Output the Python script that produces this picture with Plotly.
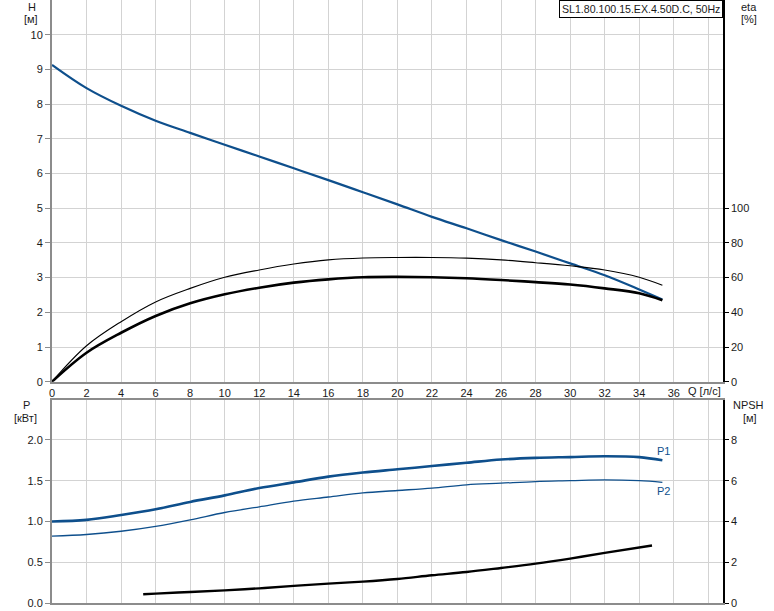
import plotly.graph_objects as go

# ---- data ----
q_h = [0, 2, 4, 6, 8, 10, 12, 14, 16, 18, 20, 22, 24, 26, 28, 30, 32, 34, 35.34]
h_vals = [9.13, 8.46, 7.95, 7.52, 7.17, 6.83, 6.49, 6.15, 5.81, 5.46, 5.11, 4.75, 4.42, 4.08, 3.75, 3.41, 3.07, 2.66, 2.37]

q_eta = [0, 2, 4, 6, 8, 10, 12, 14, 16, 18, 20, 22, 24, 26, 28, 30, 32, 34, 35.34]
eta_thin = [0, 20.7, 34.6, 46.0, 53.8, 60.2, 64.4, 67.8, 70.2, 71.3, 71.6, 71.6, 71.2, 70.2, 68.6, 66.8, 64.4, 60.2, 55.6]
eta_thick = [0, 16.7, 28.2, 37.9, 45.2, 50.4, 54.2, 57.1, 59.0, 60.2, 60.4, 60.2, 59.6, 58.6, 57.4, 56.0, 53.8, 51.0, 47.0]

q_p = [0, 2, 4, 6, 8, 10, 12, 14, 16, 18, 20, 22, 24, 26, 28, 30, 32, 34, 35.34]
p1_vals = [1.00, 1.02, 1.08, 1.15, 1.24, 1.32, 1.41, 1.48, 1.55, 1.60, 1.64, 1.68, 1.72, 1.76, 1.78, 1.79, 1.80, 1.79, 1.75]
p2_vals = [0.82, 0.84, 0.88, 0.94, 1.02, 1.11, 1.18, 1.25, 1.30, 1.35, 1.38, 1.41, 1.45, 1.47, 1.49, 1.50, 1.51, 1.50, 1.48]

q_npsh = [5.28, 6, 8, 10, 12, 14, 16, 18, 20, 22, 24, 26, 28, 30, 32, 34.74]
npsh_vals = [0.43, 0.46, 0.54, 0.62, 0.72, 0.84, 0.95, 1.05, 1.18, 1.36, 1.52, 1.72, 1.93, 2.18, 2.46, 2.82]

q_ticks = [0, 2, 4, 6, 8, 10, 12, 14, 16, 18, 20, 22, 24, 26, 28, 30, 32, 34, 36]
h_ticks = [0, 1, 2, 3, 4, 5, 6, 7, 8, 9, 10]
eta_ticks = [0, 20, 40, 60, 80, 100]
p_ticks = [0.0, 0.5, 1.0, 1.5, 2.0]
npsh_ticks = [0, 2, 4, 6, 8]

title_text = "SL1.80.100.15.EX.4.50D.C, 50Hz"

# ---- figure ----
W, H = 774, 611
ML, MR, MT, MB = 52, 51, 0, 8
PW = W - ML - MR
PH = H - MT - MB

def px(x):
    return (x - ML) / PW

def py(y):
    return (H - MB - y) / PH

BLUE = "#0e4f8c"
FONT = "Liberation Sans, Arial, sans-serif"
GRID = "#d3d3d3"
AXG = "#8c8c8c"
TXT = "#1a1a1a"

fig = go.Figure()

fig.add_trace(go.Scatter(x=q_eta, y=eta_thin, mode="lines", line=dict(color="black", width=1.1, shape="spline"),
                         xaxis="x", yaxis="y2", showlegend=False, hoverinfo="skip"))
fig.add_trace(go.Scatter(x=q_eta, y=eta_thick, mode="lines", line=dict(color="black", width=2.6, shape="spline"),
                         xaxis="x", yaxis="y2", showlegend=False, hoverinfo="skip"))
fig.add_trace(go.Scatter(x=q_h, y=h_vals, mode="lines", line=dict(color=BLUE, width=2.2, shape="spline"),
                         xaxis="x", yaxis="y", showlegend=False, hoverinfo="skip"))

fig.add_trace(go.Scatter(x=q_p, y=p1_vals, mode="lines", line=dict(color=BLUE, width=2.6, shape="spline"),
                         xaxis="x2", yaxis="y3", showlegend=False, hoverinfo="skip"))
fig.add_trace(go.Scatter(x=q_p, y=p2_vals, mode="lines", line=dict(color=BLUE, width=1.3, shape="spline"),
                         xaxis="x2", yaxis="y3", showlegend=False, hoverinfo="skip"))
fig.add_trace(go.Scatter(x=q_npsh, y=npsh_vals, mode="lines", line=dict(color="black", width=2.4, shape="spline"),
                         xaxis="x2", yaxis="y4", showlegend=False, hoverinfo="skip"))

top_dom = [py(381.7), 1.0]
bot_dom = [0.0, py(400)]
xr = [0, 38.85]
h_top = 381.7 / 34.7
p_top = (602.7 - 400) / 81.4

common_x = dict(range=xr, showgrid=True, gridcolor=GRID, gridwidth=1, zeroline=False, automargin=False,
                showline=True, linecolor=AXG, linewidth=2, mirror=True, ticks="")

grid_x_vals = q_ticks + [38]

fig.update_layout(
    width=W, height=H,
    margin=dict(l=ML, r=MR, t=MT, b=MB, autoexpand=False),
    paper_bgcolor="white", plot_bgcolor="white",
    xaxis=dict(domain=[0, 1], anchor="y", tickvals=grid_x_vals,
               ticktext=[str(v) for v in q_ticks] + [""],
               tickfont=dict(family=FONT, size=11, color=TXT), **common_x),
    xaxis2=dict(domain=[0, 1], anchor="y3", tickvals=grid_x_vals, showticklabels=False, **common_x),
    yaxis=dict(domain=top_dom, anchor="x", range=[0, h_top], tickvals=h_ticks, automargin=False,
               showgrid=True, gridcolor=GRID, zeroline=False,
               showline=True, linecolor=AXG, linewidth=2,
               ticks="outside", ticklen=5, tickcolor=AXG,
               tickfont=dict(family=FONT, size=11, color=TXT)),
    yaxis2=dict(overlaying="y", side="right", anchor="x", range=[0, h_top * 20], tickvals=eta_ticks,
                automargin=False, showgrid=False, zeroline=False, showline=True, linecolor="black", linewidth=1.5,
                ticks="outside", ticklen=4, tickcolor="black",
                tickfont=dict(family=FONT, size=11, color=TXT)),
    yaxis3=dict(domain=bot_dom, anchor="x2", range=[0, p_top], tickvals=p_ticks, tickformat=".1f",
                automargin=False, showgrid=True, gridcolor=GRID, zeroline=False,
                showline=True, linecolor=AXG, linewidth=2,
                ticks="outside", ticklen=5, tickcolor=AXG,
                tickfont=dict(family=FONT, size=11, color=TXT)),
    yaxis4=dict(overlaying="y3", side="right", anchor="x2", range=[0, p_top * 4], tickvals=npsh_ticks,
                automargin=False, showgrid=False, zeroline=False, showline=True, linecolor="black", linewidth=1.5,
                ticks="outside", ticklen=4, tickcolor="black",
                tickfont=dict(family=FONT, size=11, color=TXT)),
)

def label(text, x, y, xanchor="center", color=TXT, size=11):
    fig.add_annotation(text=text, x=px(x), y=py(y), xref="paper", yref="paper",
                       xanchor=xanchor, yanchor="middle", showarrow=False,
                       font=dict(family=FONT, size=size, color=color))

label("H", 32, 7)
label("[м]", 31, 19)
label("eta", 749, 7)
label("[%]", 749, 19)
label("P", 26, 405)
label("[кВт]", 25, 418)
label("NPSH", 748, 405)
label("[м]", 750, 418)
label("Q [л/с]", 704, 391)

fig.add_annotation(text="P1", x=35.3, y=p1_vals[-1], xref="x2", yref="y3", xanchor="left", yanchor="bottom",
                   xshift=-7, yshift=1, showarrow=False, font=dict(family=FONT, size=11, color=BLUE))
fig.add_annotation(text="P2", x=35.3, y=p2_vals[-1], xref="x2", yref="y3", xanchor="left", yanchor="top",
                   xshift=-7, yshift=-1, showarrow=False, font=dict(family=FONT, size=11, color=BLUE))

fig.add_annotation(text=title_text, x=1.0, y=1.0, xref="paper", yref="paper",
                   xanchor="right", yanchor="top", showarrow=False,
                   bgcolor="white", bordercolor="black", borderwidth=1, borderpad=2,
                   font=dict(family=FONT, size=10.6, color=TXT))

# remove the browser's default 8px body margin so the figure sits at the page corner
fig.write_html("out.html", config={"displayModeBar": False},
               post_script="document.body.style.margin='0px';")
